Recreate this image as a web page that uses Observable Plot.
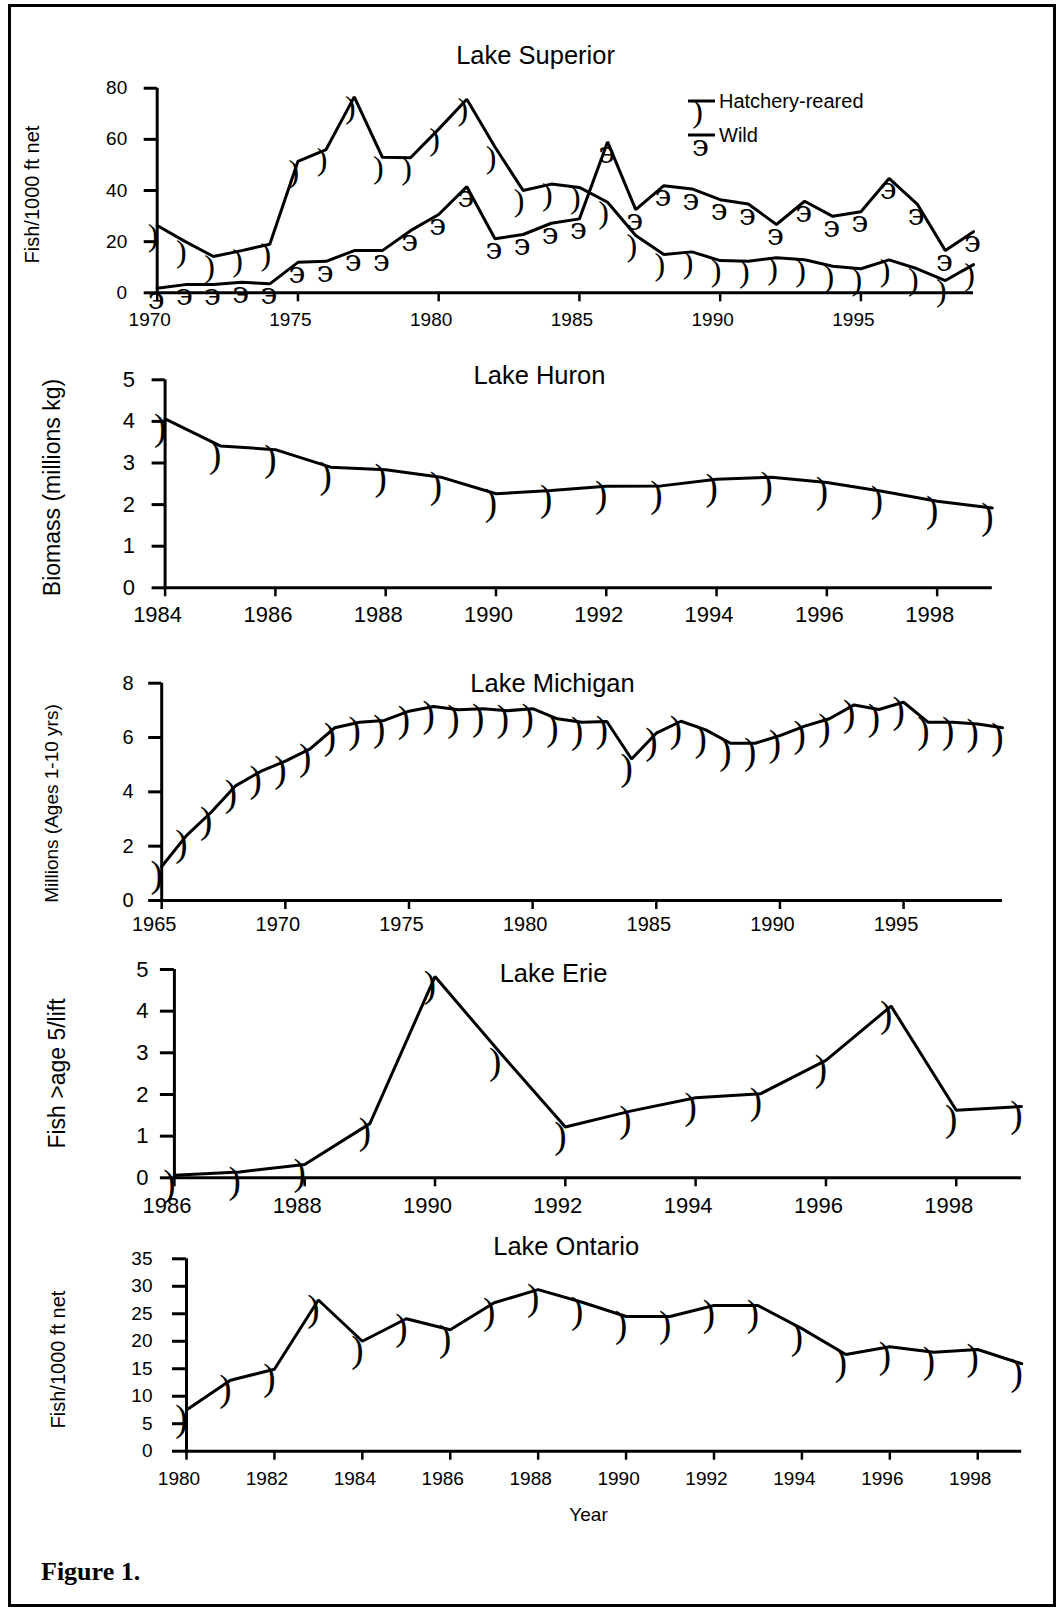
<!DOCTYPE html>
<html><head><meta charset="utf-8">
<script src="https://cdn.jsdelivr.net/npm/d3@7"></script>
<script src="https://cdn.jsdelivr.net/npm/@observablehq/plot@0.6"></script>
<style>
html,body{margin:0;padding:0;background:#fff;overflow:hidden;}
#page{position:relative;width:1062px;height:1610px;overflow:hidden;background:#fff;font-family:"Liberation Sans",Arial,sans-serif;color:#000;}
#page svg{position:absolute;left:0;overflow:visible;}
#frame{position:absolute;left:8px;top:4px;width:1048px;height:1603px;border:3px solid #000;box-sizing:border-box;}
#fig{position:absolute;left:41px;top:1557px;font-family:"Liberation Serif",serif;font-weight:bold;font-size:26px;line-height:30px;}
</style></head><body><div id="page"><div id="frame"></div><div id="fig">Figure 1.</div></div>
<script>
// ---- Data ----
const superiorYears = [1970,1971,1972,1973,1974,1975,1976,1977,1978,1979,1980,1981,1982,1983,1984,1985,1986,1987,1988,1989,1990,1991,1992,1993,1994,1995,1996,1997,1998,1999];
const superiorHatchery = [26.3,20,14.2,16.5,19,51.4,56,76.6,53,52.8,64,75.7,57,40,42.5,41.2,35.4,22.4,15,16,12.6,12.3,13.7,12.9,10.4,9.4,12.9,9.4,4.8,11];
const superiorWild = [1.8,3.2,3.2,4.1,3.5,11.9,12.3,16.5,16.5,24.3,30.6,41.5,21.1,22.8,27.2,28.9,59,32.5,41.9,40.6,36.4,34.7,26.7,35.8,29.9,31.7,44.7,34.7,16.5,23.9];
const superiorXTicks = [1970,1975,1980,1985,1990,1995];
const superiorYTicks = [0,20,40,60,80];

const huronYears = [1984,1985,1986,1987,1988,1989,1990,1991,1992,1993,1994,1995,1996,1997,1998,1999];
const huronBiomass = [4.06,3.41,3.32,2.90,2.84,2.66,2.26,2.34,2.44,2.45,2.61,2.66,2.53,2.32,2.08,1.92];
const huronXTicks = [1984,1986,1988,1990,1992,1994,1996,1998];
const huronYTicks = [0,1,2,3,4,5];

const michiganYears = [1965,1966,1967,1968,1969,1970,1971,1972,1973,1974,1975,1976,1977,1978,1979,1980,1981,1982,1983,1984,1985,1986,1987,1988,1989,1990,1991,1992,1993,1994,1995,1996,1997,1998,1999];
const michiganMillions = [1.25,2.39,3.25,4.23,4.75,5.13,5.58,6.36,6.56,6.63,6.97,7.14,7.02,7.06,6.99,7.06,6.69,6.56,6.59,5.21,6.16,6.60,6.28,5.79,5.79,6.07,6.42,6.69,7.20,7.03,7.30,6.56,6.56,6.50,6.36];
const michiganXTicks = [1965,1970,1975,1980,1985,1990,1995];
const michiganYTicks = [0,2,4,6,8];

const erieYears = [1986,1987,1988,1989,1990,1991,1992,1993,1994,1995,1996,1997,1998,1999];
const erieFish = [0.06,0.14,0.32,1.30,4.83,3.0,1.22,1.60,1.92,2.02,2.82,4.12,1.62,1.71];
const erieXTicks = [1986,1988,1990,1992,1994,1996,1998];
const erieYTicks = [0,1,2,3,4,5];

const ontarioYears = [1980,1981,1982,1983,1984,1985,1986,1987,1988,1989,1990,1991,1992,1993,1994,1995,1996,1997,1998,1999];
const ontarioFish = [7.5,12.9,14.9,27.5,20.0,24.1,22.1,27.0,29.4,27.1,24.5,24.5,26.5,26.5,22.3,17.6,19.0,18.0,18.5,15.9];
const ontarioXTicks = [1980,1982,1984,1986,1988,1990,1992,1994,1996,1998];
const ontarioYTicks = [0,5,10,15,20,25,30,35];

const legendLabels = ["Hatchery-reared","Wild"];

// ---- Styles ----
const PAREN = {glyph: ")", font: "Liberation Serif", size: 37, dx: -5, dy: 9};
const PAREN_S = {glyph: ")", font: "Liberation Serif", size: 32, dx: -4, dy: 10.5};
const REVEPS = {glyph: "\u03F6", font: "DejaVu Serif", size: 30, dx: -1, dy: 11};

const page = document.getElementById("page");

function makePanel(c) {
  const mt = c.yTopPx - c.top, mb = c.top + c.height - c.y0Px, mr = 1062 - c.xEndPx;
  const fmx = (c.ml + c.xEndPx) / 2, fmy = (c.yTopPx + c.y0Px) / 2;
  const marks = [];
  marks.push(Plot.ruleX([{x: c.xDomain[0], y1: c.yDomain[0], y2: c.yDomain[1]}], {x: "x", y1: "y1", y2: "y2", stroke: "#000", strokeWidth: 3}));
  marks.push(Plot.ruleY([{y: c.yDomain[0], x1: c.xDomain[0], x2: c.xDomain[1]}], {y: "y", x1: "x1", x2: "x2", stroke: "#000", strokeWidth: 3}));
  marks.push(Plot.axisY({ticks: c.yTicks, tickSize: c.yTickLen, tickPadding: c.yPad, fontSize: c.tickFont, strokeWidth: 3, label: null, tickFormat: d => String(d)}));
  // x tick marks
  marks.push(Plot.axisX({ticks: c.xTicks, tickSize: 9, tickPadding: 0, fontSize: c.tickFont, strokeWidth: 2.5, label: null, tickFormat: () => ""}));
  // x tick labels (sit slightly left of their ticks, as in the original)
  marks.push(Plot.axisX({ticks: c.xTicks, tickSize: 0, tickPadding: 9 + c.xPad, dx: -7.5, fontSize: c.tickFont, label: null, tickFormat: d => String(d)}));
  for (const s of c.series) {
    const data = s.years.map((yr, i) => ({year: yr, value: s.values[i]}));
    marks.push(Plot.line(data, {x: "year", y: "value", stroke: "#000", strokeWidth: 3, strokeLinejoin: "miter"}));
    marks.push(Plot.text(data, {x: "year", y: "value", text: () => s.mk.glyph, fontFamily: s.mk.font, fontSize: s.mk.size, dx: s.mk.dx, dy: s.mk.dy, textAnchor: "middle", lineAnchor: "middle", fill: "#000"}));
  }
  marks.push(Plot.text([c.title], {text: d => d, frameAnchor: "middle", dx: c.titleX - fmx, dy: c.titleY - fmy, fontSize: c.titleFont, textAnchor: "middle", lineAnchor: "middle", fill: "#000"}));
  marks.push(Plot.text([c.ylabel], {text: d => d, frameAnchor: "middle", rotate: -90, dx: c.ylabelX - fmx, dy: c.ylabelY - fmy, fontSize: c.ylabelFont, textAnchor: "middle", lineAnchor: "middle", fill: "#000"}));
  if (c.xlabel) {
    marks.push(Plot.text([c.xlabel], {text: d => d, frameAnchor: "middle", dx: c.xlabelX - fmx, dy: c.xlabelY - fmy, fontSize: c.xlabelFont, textAnchor: "middle", lineAnchor: "middle", fill: "#000"}));
  }
  const svg = Plot.plot({
    width: 1062, height: c.height,
    marginTop: mt, marginBottom: mb, marginLeft: c.ml, marginRight: mr,
    x: {domain: c.xDomain}, y: {domain: c.yDomain},
    style: {fontFamily: "Liberation Sans, Arial, sans-serif", background: "transparent", color: "#000", overflow: "visible"},
    marks
  });
  svg.style.position = "absolute";
  svg.style.top = c.top + "px";
  svg.style.left = "0px";
  page.appendChild(svg);
}

makePanel({top: 0, height: 345, ml: 156.7, xEndPx: 973, yTopPx: 87.7, y0Px: 292.3,
  xDomain: [1970, 1999], yDomain: [0, 80], xTicks: superiorXTicks, yTicks: superiorYTicks,
  tickFont: 19, yTickLen: 13, yPad: 17, xPad: 11,
  series: [{years: superiorYears, values: superiorHatchery, mk: PAREN_S}, {years: superiorYears, values: superiorWild, mk: REVEPS}],
  title: "Lake Superior", titleX: 535, titleY: 55, titleFont: 25.5,
  ylabel: "Fish/1000 ft net", ylabelX: 31.7, ylabelY: 194, ylabelFont: 20});

makePanel({top: 345, height: 295, ml: 164.6, xEndPx: 991.8, yTopPx: 379.3, y0Px: 587.3,
  xDomain: [1984, 1999], yDomain: [0, 5], xTicks: huronXTicks, yTicks: huronYTicks,
  tickFont: 22, yTickLen: 13, yPad: 17, xPad: 10,
  series: [{years: huronYears, values: huronBiomass, mk: PAREN}],
  title: "Lake Huron", titleX: 539, titleY: 375.3, titleFont: 25.5,
  ylabel: "Biomass (millions kg)", ylabelX: 51.7, ylabelY: 487, ylabelFont: 23});

makePanel({top: 640, height: 305, ml: 161.2, xEndPx: 1002, yTopPx: 682.7, y0Px: 900,
  xDomain: [1965, 1999], yDomain: [0, 8], xTicks: michiganXTicks, yTicks: michiganYTicks,
  tickFont: 20, yTickLen: 13, yPad: 15, xPad: 7.5,
  series: [{years: michiganYears, values: michiganMillions, mk: PAREN}],
  title: "Lake Michigan", titleX: 552, titleY: 683, titleFont: 25.5,
  ylabel: "Millions (Ages 1-10 yrs)", ylabelX: 51.6, ylabelY: 803, ylabelFont: 19});

makePanel({top: 945, height: 280, ml: 173.9, xEndPx: 1020.9, yTopPx: 969, y0Px: 1177.3,
  xDomain: [1986, 1999], yDomain: [0, 5], xTicks: erieXTicks, yTicks: erieYTicks,
  tickFont: 22, yTickLen: 14, yPad: 12, xPad: 11,
  series: [{years: erieYears, values: erieFish, mk: PAREN}],
  title: "Lake Erie", titleX: 553, titleY: 973, titleFont: 25.5,
  ylabel: "Fish >age 5/lift", ylabelX: 57, ylabelY: 1073, ylabelFont: 23});

makePanel({top: 1225, height: 310, ml: 186, xEndPx: 1021.2, yTopPx: 1258.3, y0Px: 1450.7,
  xDomain: [1980, 1999], yDomain: [0, 35], xTicks: ontarioXTicks, yTicks: ontarioYTicks,
  tickFont: 19, yTickLen: 14, yPad: 20, xPad: 11,
  series: [{years: ontarioYears, values: ontarioFish, mk: PAREN}],
  title: "Lake Ontario", titleX: 565.7, titleY: 1246, titleFont: 25.5,
  ylabel: "Fish/1000 ft net", ylabelX: 58, ylabelY: 1359, ylabelFont: 20,
  xlabel: "Year", xlabelX: 588, xlabelY: 1514, xlabelFont: 19});

// ---- Legend (Lake Superior) ----
const legendMarkers = [PAREN_S, REVEPS];
const leg = d3.select(page).append("svg").attr("width", 1062).attr("height", 200)
  .style("position", "absolute").style("left", "0px").style("top", "0px");
const legRows = [101, 135];
legendLabels.forEach((lab, i) => {
  const y = legRows[i];
  leg.append("line").attr("x1", 688).attr("x2", 715).attr("y1", y).attr("y2", y).attr("stroke", "#000").attr("stroke-width", 3);
  const mk = legendMarkers[i];
  leg.append("text").attr("x", 701.5 + mk.dx).attr("y", y + mk.dy).attr("dy", "0.32em")
    .attr("text-anchor", "middle").attr("font-family", mk.font).attr("font-size", mk.size).text(mk.glyph);
  leg.append("text").attr("x", 719).attr("y", y).attr("dy", "0.36em")
    .attr("font-family", "Liberation Sans, Arial, sans-serif").attr("font-size", 20).text(lab);
});
</script></body></html>
